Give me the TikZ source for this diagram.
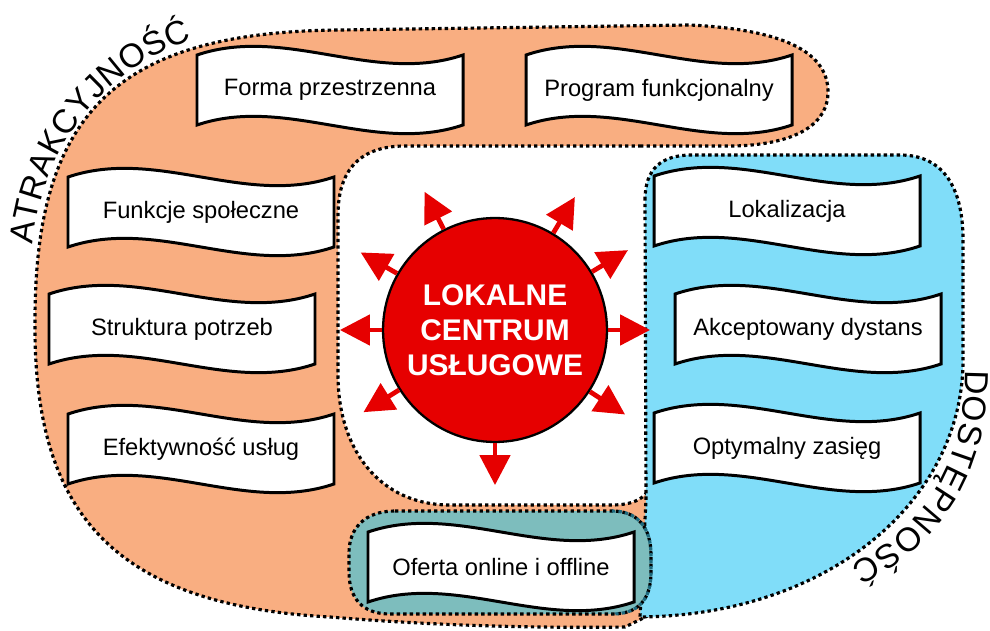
\documentclass[tikz,border=0pt]{standalone}
\usepackage{fontspec}
\setmainfont{Liberation Sans}
\usetikzlibrary{arrows.meta,decorations.text}

\definecolor{peach}{RGB}{249,174,129}
\definecolor{sky}{RGB}{128,221,249}
\definecolor{overlap}{RGB}{125,189,189}
\definecolor{overlapedge}{RGB}{30,105,125}
\definecolor{hubred}{RGB}{230,0,0}

% wavy white card: name, centre, text
\newcommand{\wavebox}[3]{%
  \begin{scope}[shift={(#2)}]
    \draw[boxline] (-133,-35) .. controls (-44,-65) and (44,-5) .. (133,-35) -- (133,35) .. controls (44,65) and (-44,5) .. (-133,35) -- cycle;
  \end{scope}
  \node[boxtext] (#1) at (#2) {#3};
}

\begin{document}
\begin{tikzpicture}[x=0.02cm, y=-0.02cm,
    zone/.style={line width=1.8pt, dash pattern=on 1.9pt off 1.8pt},
    boxline/.style={draw=black, fill=white, line width=1.7pt},
    boxtext/.style={font=\fontsize{13.5pt}{16pt}\selectfont},
    ray/.style={draw=hubred, line width=2.7pt, -{Triangle[length=0.6cm, width=0.6cm]}},
    arctext/.style={decorate, decoration={text along path, text align={fit to path}}}]
    \useasboundingbox (0,0) rectangle (990,631);

    % atrakcyjnosc
    \draw[zone, fill=peach] (640,146) -- (735,146) .. controls (800,144) and (828,122) .. (828,92) .. controls (828,55) and (790,30) .. (690,25) -- (340,30) .. controls (120,32) and (35,110) .. (35,320) .. controls (33,510) and (110,605) .. (330,617) .. controls (450,627) and (560,628) .. (625,627) -- (680,600) -- (680,440) -- (652,440) -- (652,475) .. controls (652,495) and (638,505) .. (612,505) -- (450,505) .. controls (380,505) and (338,450) .. (338,375) -- (338,215) .. controls (338,170) and (360,146) .. (405,146) -- cycle;
    % dostepnosc
    \draw[zone, fill=sky] (645,200) .. controls (645,168) and (662,155) .. (692,155) -- (900,155) .. controls (945,155) and (963,190) .. (963,240) -- (963,360) .. controls (963,500) and (830,615) .. (640,617) -- (646,500) -- cycle;
    \draw[zone, fill=overlap] (395,511) -- (612,511) .. controls (638,511) and (651,528) .. (651,555) -- (651,572) .. controls (651,600) and (638,614) .. (612,614) -- (390,614) .. controls (362,614) and (349,598) .. (349,572) -- (349,553) .. controls (349,528) and (365,511) .. (395,511) -- cycle;
    \draw[zone, draw=overlapedge] (612,511) .. controls (638,511) and (651,528) .. (651,555) -- (651,572) .. controls (651,600) and (638,614) .. (612,614);

    \wavebox{forma}{330,90}{Forma przestrzenna}
    \wavebox{program}{659,90}{Program funkcjonalny}
    \wavebox{funkcje}{201,212}{Funkcje społeczne}
    \wavebox{struktura}{182,329}{Struktura potrzeb}
    \wavebox{efekt}{201,449}{Efektywność usług}
    \wavebox{lokal}{787,211}{Lokalizacja}
    \wavebox{dystans}{808,329}{Akceptowany dystans}
    \wavebox{zasieg}{787,448}{Optymalny zasięg}
    \wavebox{oferta}{501,567}{Oferta online i offline}

    \node[circle, draw=black, line width=1.3pt, fill=hubred, minimum size=4.48cm, text=white, align=center, font=\fontsize{17pt}{20pt}\selectfont\bfseries] (hub) at (495,330) {LOKALNE\\CENTRUM\\USŁUGOWE};
    \foreach \a [count=\i] in {117,59,31,0,-33,-90,-148,180,150} {
        \path (hub.\a) ++(\a:0.84cm) coordinate (tip\i);
        \draw[ray] (hub.\a) -- (tip\i);
    }

    \path[arctext, decoration={text={|\fontsize{19pt}{19pt}\selectfont|ATRAKCYJNOŚĆ}}] (33,245) .. controls (41,150) and (101,70) .. (192,40);
    \path[arctext, decoration={text={|\fontsize{19pt}{19pt}\selectfont|DOSTĘPNOŚĆ}}] (965,370) .. controls (966,460) and (928,526) .. (850,565);
\end{tikzpicture}
\end{document}
